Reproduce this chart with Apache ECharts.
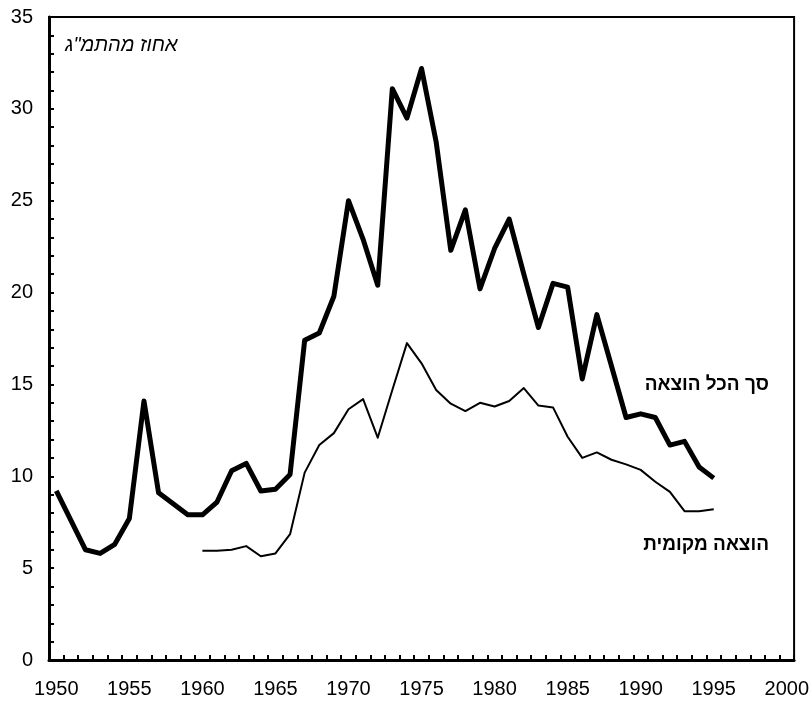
<!DOCTYPE html>
<html>
<head>
<meta charset="utf-8">
<script src="https://cdn.jsdelivr.net/npm/echarts@6/dist/echarts.min.js"></script>
<style>
html,body{margin:0;padding:0;background:#fff;}
#chart{width:812px;height:702px;}
</style>
</head>
<body>
<div id="chart"></div>
<script>
var years=["1950","1951","1952","1953","1954","1955","1956","1957","1958","1959",
	"1960","1961","1962","1963","1964","1965","1966","1967","1968","1969",
	"1970","1971","1972","1973","1974","1975","1976","1977","1978","1979",
	"1980","1981","1982","1983","1984","1985","1986","1987","1988","1989",
	"1990","1991","1992","1993","1994","1995","1996","1997","1998","1999","2000"];
// סך הכל הוצאה 1950-1995
var totalSpend=[9.2,7.6,6.0,5.8,6.3,7.7,14.1,9.1,8.5,7.9,
	7.9,8.6,10.3,10.7,9.2,9.3,10.1,17.4,17.8,19.8,
	25.0,22.9,20.4,31.1,29.5,32.2,28.2,22.3,24.5,20.2,
	22.4,24.0,21.0,18.1,20.5,20.3,15.3,18.8,16.0,13.2,
	13.4,13.2,11.7,11.9,10.5,9.9];
// הוצאה מקומית 1960-1995
var localSpend=[null,null,null,null,null,null,null,null,null,null,
	5.95,5.95,6.0,6.2,5.65,5.8,6.85,10.2,11.7,12.35,
	13.65,14.2,12.1,14.7,17.25,16.15,14.7,13.95,13.55,14.0,
	13.8,14.1,14.8,13.85,13.75,12.15,11.0,11.3,10.9,10.65,
	10.35,9.7,9.15,8.1,8.1,8.2];
var yMax=35;
var unitText="אחוז מהתמ\"ג";
var totalText="סך הכל הוצאה";
var localText="הוצאה מקומית";

var FONT="'Liberation Sans', Arial, sans-serif";

function JChartInit(){
	var chart=echarts.init(document.getElementById("chart"),null,{renderer:"canvas"});
	var opt={
		animation:false,
		backgroundColor:"#fff",
		grid:{left:49,right:15,top:17,bottom:42,show:true,borderColor:"#000",borderWidth:2,backgroundColor:"transparent"},
		xAxis:{
			type:"category",
			data:years,
			boundaryGap:true,
			axisLine:{show:true,lineStyle:{color:"#000",width:3}},
			axisTick:{show:true,inside:true,length:5,interval:0,alignWithLabel:false,lineStyle:{color:"#000",width:2}},
			axisLabel:{interval:4,color:"#000",fontSize:20,fontFamily:FONT,margin:19},
			splitLine:{show:false}
		},
		yAxis:{
			type:"value",
			min:0,
			max:yMax,
			interval:1,
			axisLine:{show:true,lineStyle:{color:"#000",width:3}},
			axisTick:{show:true,inside:true,length:5,lineStyle:{color:"#000",width:2}},
			axisLabel:{color:"#000",fontSize:20,fontFamily:FONT,margin:16,
				formatter:function(v){
					return v%5==0?String(v):"";
				}},
			splitLine:{show:false}
		},
		series:[{
			name:totalText,
			type:"line",
			data:totalSpend,
			showSymbol:false,
			symbol:"none",
			lineStyle:{color:"#000",width:5,join:"round"},
			z:3
		},{
			name:localText,
			type:"line",
			data:localSpend,
			showSymbol:false,
			symbol:"none",
			connectNulls:false,
			lineStyle:{color:"#000",width:2,join:"round"},
			z:2
		}],
		graphic:[{
			type:"text",
			left:65,
			top:35,
			style:{text:unitText,fill:"#000",font:"italic 20px "+FONT}
		},{
			type:"text",
			right:43,
			top:375,
			style:{text:totalText,fill:"#000",font:"bold 19px "+FONT}
		},{
			type:"text",
			right:43,
			top:535,
			style:{text:localText,fill:"#000",font:"bold 19px "+FONT}
		}]
	};
	chart.setOption(opt);
}
JChartInit();
</script>
</body>
</html>
